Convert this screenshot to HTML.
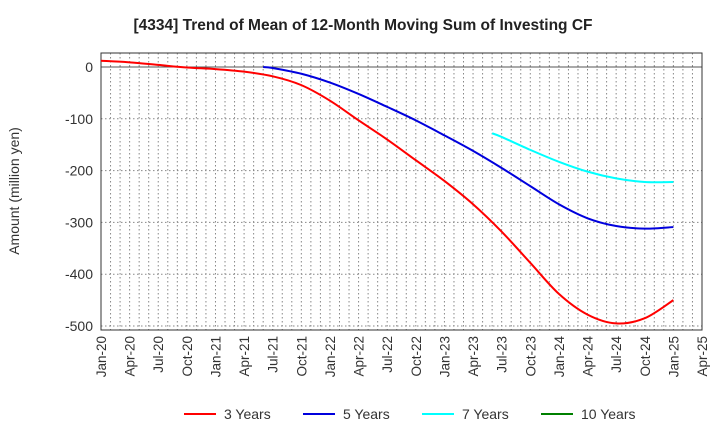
<!DOCTYPE html>
<html><head><meta charset="utf-8"><style>
body{margin:0;background:#fff;font-family:"Liberation Sans",sans-serif;}
</style></head><body>
<svg id="c" width="720" height="440" xmlns="http://www.w3.org/2000/svg">
<text x="363" y="30" text-anchor="middle" font-size="15.5" font-weight="bold" fill="#222">[4334]  Trend of Mean of 12-Month Moving Sum of Investing CF</text>
<text transform="translate(19,191) rotate(-90)" text-anchor="middle" font-size="14" fill="#333">Amount (million yen)</text>
<g id="grid"></g><g id="axes"></g><g id="series"></g><g id="legend"></g>
</svg>
<script>
const xLabels=["Jan-20","Apr-20","Jul-20","Oct-20","Jan-21","Apr-21","Jul-21","Oct-21","Jan-22","Apr-22","Jul-22","Oct-22","Jan-23","Apr-23","Jul-23","Oct-23","Jan-24","Apr-24","Jul-24","Oct-24","Jan-25","Apr-25"];
const yTicks=[0,-100,-200,-300,-400,-500];
const months3=[0,3,6,9,12,15,18,21,24,27,30,33,36,39,42,45,48,51,54,57,60];
const vals3=[12,9,4,-1,-4,-9,-18,-35,-65,-103,-140,-180,-220,-265,-318,-378,-438,-478,-495,-485,-450];
const months5=[17,18,21,24,27,30,33,36,39,42,45,48,51,54,57,60];
const vals5=[0,-2,-13,-30,-52,-77,-103,-132,-162,-195,-230,-265,-292,-307,-312,-309];
const months7=[41,42,45,48,51,54,57,60];
const vals7=[-128,-135,-160,-183,-202,-215,-222,-222];
const months10=[];const vals10=[];
const L=101,R=702,T=53,B=330;
const X=m=>L+m*(R-L)/63;
const Y=v=>67+(-v)*(326-67)/500;
const NS="http://www.w3.org/2000/svg";
function mk(p,t,a){const e=document.createElementNS(NS,t);for(const k in a)e.setAttribute(k,a[k]);document.getElementById(p).appendChild(e);return e;}
for(let m=1;m<63;m++){const g=mk('grid','line',{x1:X(m),x2:X(m),y1:T,y2:B,stroke:'#888','stroke-dasharray':'1.5,2.5','stroke-width':1});

}
yTicks.forEach(v=>{const g=mk('grid','line',{x1:L,x2:R,y1:Y(v),y2:Y(v),stroke:v==0?'#555':'#888','stroke-dasharray':v==0?'':'1.5,2.5','stroke-width':1});


const t=mk('axes','text',{x:L-8,y:Y(v)+5,'text-anchor':'end','font-size':14,fill:'#333'});t.textContent=v;

});
const fr=mk('axes','rect',{x:L,y:T,width:R-L,height:B-T,fill:'none',stroke:'#333','stroke-width':1});


xLabels.forEach((s,i)=>{const x=X(i*3);const t=mk('axes','text',{transform:`translate(${x+5},${B+6}) rotate(-90)`,'text-anchor':'end','font-size':13.5,fill:'#333'});t.textContent=s;

});
function path(ms,vs){const p=ms.map((m,i)=>[X(m),Y(vs[i])]);if(p.length<2)return'';let d=`M${p[0][0]},${p[0][1]}`;
for(let i=0;i<p.length-1;i++){const p0=p[i-1]||p[i],p1=p[i],p2=p[i+1],p3=p[i+2]||p2;
d+=` C${p1[0]+(p2[0]-p0[0])/6},${p1[1]+(p2[1]-p0[1])/6} ${p2[0]-(p3[0]-p1[0])/6},${p2[1]-(p3[1]-p1[1])/6} ${p2[0]},${p2[1]}`;}return d;}
[[months3,vals3,'#ff0000','line-3-years'],[months5,vals5,'#0000dd','line-5-years'],[months7,vals7,'#00ffff','line-7-years'],[months10,vals10,'#008000','line-10-years']].forEach(s=>{
const d=path(s[0],s[1]);if(!d)return;const e=mk('series','path',{d:d,fill:'none',stroke:s[2],'stroke-width':2});

});
[['3 Years','#ff0000',184],['5 Years','#0000dd',303],['7 Years','#00ffff',422],['10 Years','#008000',541]].forEach(l=>{
const g=mk('legend','g',{});


const ln=document.createElementNS(NS,'line');ln.setAttribute('x1',l[2]);ln.setAttribute('x2',l[2]+32);ln.setAttribute('y1',414);ln.setAttribute('y2',414);ln.setAttribute('stroke',l[1]);ln.setAttribute('stroke-width',2);g.appendChild(ln);
const t=document.createElementNS(NS,'text');t.setAttribute('x',l[2]+40);t.setAttribute('y',419);t.setAttribute('font-size',14);t.setAttribute('fill','#333');t.textContent=l[0];g.appendChild(t);});
</script>
</body></html>
